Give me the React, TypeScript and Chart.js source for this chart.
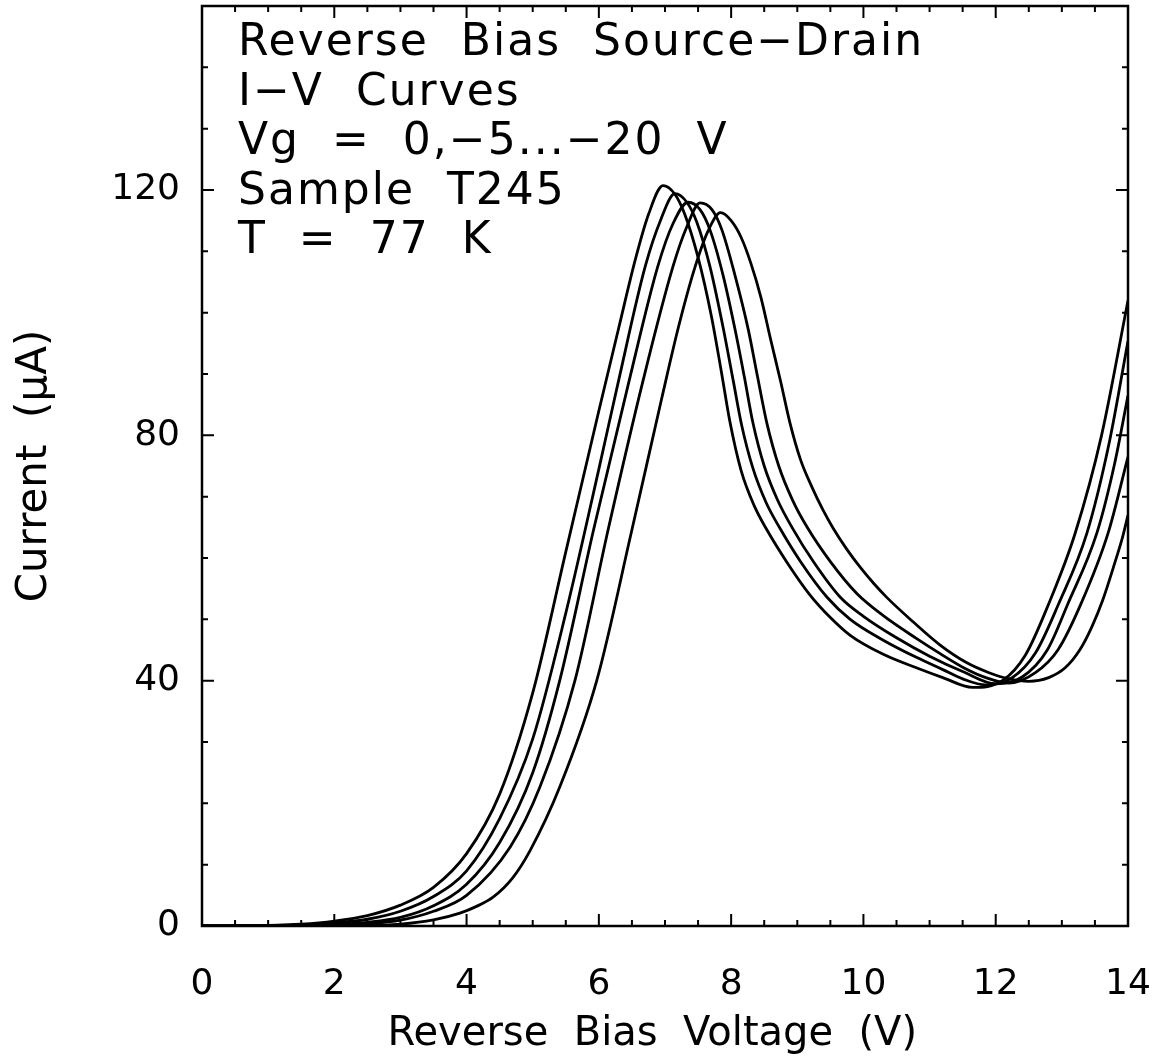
import React, { useEffect, useRef } from "react";
import { Chart, registerables } from "chart.js";

Chart.register(...registerables);

// ---- data ----
const vg0X = [0, 1.0, 1.5, 2.0, 2.5, 3.0, 3.5, 4.0, 4.5, 5.0, 5.5, 6.0, 6.3, 6.55, 6.75, 6.97, 7.15, 7.3, 7.5, 7.7, 7.85, 7.98, 8.15, 8.35, 8.54, 8.85, 9.19, 9.5, 9.8, 10.3, 10.8, 11.2, 11.65, 12.1, 12.45, 12.8, 13.2, 13.6, 14];
const vg0Y = [0, 0.1, 0.3, 0.8, 1.7, 3.4, 6.3, 11.8, 21.5, 38, 61, 84, 97.5, 108.6, 116, 120.7, 119.3, 116, 109, 99.5, 90.5, 82.3, 74.3, 68.5, 64.6, 59.2, 54.0, 50.3, 47.4, 44.3, 42.1, 40.5, 38.9, 40.0, 44.2, 52.5, 64, 80, 102];

const vg5X = [0, 1.0, 1.5, 2.0, 2.5, 3.0, 3.5, 4.0, 4.5, 5.0, 5.5, 6.0, 6.3, 6.7, 6.93, 7.15, 7.33, 7.48, 7.68, 7.88, 8.03, 8.16, 8.33, 8.53, 8.74, 9.05, 9.45, 9.8, 10.3, 10.8, 11.2, 11.5, 11.85, 12.25, 12.6, 12.95, 13.38, 13.72, 14];
const vg5Y = [0, 0.05, 0.2, 0.5, 1.1, 2.4, 4.8, 9, 17.5, 30.5, 51, 74.5, 89, 107.5, 115, 119.4, 118, 114.8, 107.5, 97.5, 89, 81.6, 74.6, 69, 64.8, 59.4, 53.6, 50, 46.6, 43.8, 41.8, 40.3, 39.3, 40.5, 44.5, 52.5, 64.1, 79, 95.4];

const vg10X = [0, 1.0, 1.5, 2.0, 2.5, 3.0, 3.5, 4.0, 4.5, 5.0, 5.41, 5.92, 6.46, 6.89, 7.12, 7.35, 7.53, 7.68, 7.88, 8.06, 8.2, 8.33, 8.5, 8.7, 8.92, 9.25, 9.65, 10.0, 10.5, 11.0, 11.5, 12.0, 12.4, 12.78, 13.09, 13.53, 13.8, 14];
const vg10Y = [0, 0.02, 0.1, 0.25, 0.6, 1.4, 3.3, 6.8, 13.6, 25, 40.1, 64.6, 89, 107.5, 114.5, 118.0, 116.8, 113.5, 106, 97.2, 89.5, 82, 75, 69.5, 65, 59.3, 53.6, 50.5, 47, 44, 41.5, 39.5, 40.6, 45, 52.5, 64.1, 75.5, 86.5];

const vg15X = [0, 1.5, 2.0, 2.5, 3.0, 3.5, 4.0, 4.66, 5.11, 5.64, 6.14, 6.67, 7.12, 7.33, 7.53, 7.71, 7.86, 8.06, 8.26, 8.4, 8.54, 8.72, 8.93, 9.15, 9.5, 9.9, 10.3, 10.8, 11.16, 11.5, 11.85, 12.2, 12.6, 12.94, 13.3, 13.7, 14];
const vg15Y = [0, 0.02, 0.1, 0.35, 0.95, 2.4, 5.0, 12.9, 22.7, 40.1, 64.6, 89, 107.5, 114, 117.9, 116.8, 113.5, 106, 97.2, 89.5, 82, 75, 69.4, 65, 59.4, 54.2, 50.6, 46.9, 44.4, 42.2, 40.5, 39.6, 41.3, 45, 52.8, 64.1, 76.5];

const vg20X = [0, 2.5, 3.0, 3.5, 3.9, 4.15, 4.4, 4.7, 4.96, 5.41, 5.97, 6.5, 6.95, 7.2, 7.45, 7.65, 7.84, 8.0, 8.15, 8.3, 8.45, 8.6, 8.75, 8.89, 9.05, 9.22, 9.39, 9.54, 9.75, 9.95, 10.16, 10.36, 10.75, 11.16, 11.55, 11.9, 12.2, 12.5, 12.8, 13.05, 13.27, 13.45, 13.62, 13.8, 13.92, 14];
const vg20Y = [0, 0.05, 0.3, 1.0, 2.1, 3.2, 4.7, 7.9, 12.3, 22.7, 40.1, 64.6, 86, 97.5, 107.3, 113.3, 116.3, 115, 112.3, 108, 102.5, 95.5, 88.7, 82, 76, 71.6, 67.8, 64.9, 61.4, 58.5, 55.8, 53.5, 49.6, 45.8, 43, 41.3, 40.3, 39.9, 40.5, 42.1, 45.0, 48.7, 53.2, 59.2, 63.5, 67];

const seriesNames = ["Vg = 0 V", "Vg = -5 V", "Vg = -10 V", "Vg = -15 V", "Vg = -20 V"];
const xLabelValues = [0, 2, 4, 6, 8, 10, 12, 14];
const yLabelValues = [0, 40, 80, 120];
const noteLines = [
  "Reverse  Bias  Source\u2212Drain",
  "I\u2212V  Curves",
  "Vg  =  0,\u22125...\u221220  V",
  "Sample  T245",
  "T  =  77  K",
];
const xTitle = "Reverse  Bias  Voltage  (V)  ";
const yTitle = "Current  (\u03bcA)";

const FAMILY = '"DejaVu Sans", sans-serif';

const frameTicks = {
  id: "frameTicks",
  afterDatasetsDraw(chart: any) {
    const { ctx, chartArea } = chart;
    const { left, right, top, bottom } = chartArea;
    const xs = chart.scales.x;
    const ys = chart.scales.y;
    ctx.save();
    ctx.strokeStyle = "#000";
    ctx.lineWidth = 2.5;
    ctx.strokeRect(left, top, right - left, bottom - top);
    ctx.lineWidth = 2;
    ctx.beginPath();
    xs.ticks.forEach((t: any) => {
      const p = xs.getPixelForValue(t.value);
      const major = Math.abs(t.value % 2) < 1e-6;
      const len = major ? 12 : 6;
      ctx.moveTo(p, bottom);
      ctx.lineTo(p, bottom - len);
      ctx.moveTo(p, top);
      ctx.lineTo(p, top + len);
    });
    ys.ticks.forEach((t: any) => {
      const p = ys.getPixelForValue(t.value);
      const major = Math.abs(t.value % 40) < 1e-6;
      const len = major ? 12 : 6;
      ctx.moveTo(left, p);
      ctx.lineTo(left + len, p);
      ctx.moveTo(right, p);
      ctx.lineTo(right - len, p);
    });
    ctx.stroke();
    ctx.restore();
  },
};

const notes = {
  id: "notes",
  afterDraw(chart: any) {
    const { ctx, chartArea } = chart;
    ctx.save();
    ctx.fillStyle = "#000";
    ctx.font = `44px ${FAMILY}`;
    (ctx as any).letterSpacing = "2px";
    ctx.textBaseline = "middle";
    ctx.textAlign = "left";
    noteLines.forEach((line, i) => {
      ctx.fillText(line, chartArea.left + 36, chartArea.top + 38 + i * 49.5);
    });
    ctx.restore();
  },
};

function pts(xs: number[], ys: number[]) {
  return xs.map((x, i) => ({ x, y: ys[i] }));
}

export default function App() {
  const ref = useRef<HTMLCanvasElement>(null);
  useEffect(() => {
    document.body.style.margin = "0";
    const sets = [
      pts(vg0X, vg0Y),
      pts(vg5X, vg5Y),
      pts(vg10X, vg10Y),
      pts(vg15X, vg15Y),
      pts(vg20X, vg20Y),
    ];
    const chart = new Chart(ref.current as HTMLCanvasElement, {
      type: "line",
      data: {
        datasets: sets.map((d, i) => ({
          label: seriesNames[i],
          data: d,
          borderColor: "#000",
          borderWidth: 2.8,
          pointRadius: 0,
          fill: false,
          cubicInterpolationMode: "monotone" as const,
        })),
      },
      options: {
        animation: false,
        responsive: false,
        devicePixelRatio: 1,
        layout: { padding: { left: 0, top: 6, right: 34, bottom: 0 } },
        plugins: { legend: { display: false }, tooltip: { enabled: false } },
        scales: {
          x: {
            type: "linear",
            min: 0,
            max: 14,
            grid: { display: false, drawTicks: false },
            border: { display: false },
            ticks: {
              stepSize: 0.5,
              autoSkip: false,
              maxRotation: 0,
              minRotation: 0,
              padding: 37,
              color: "#000",
              font: { family: FAMILY, size: 36 },
              callback: (v: any) => (xLabelValues.includes(Number(v)) ? String(v) : ""),
            },
            title: {
              display: true,
              text: xTitle,
              color: "#000",
              font: { family: FAMILY, size: 40, lineHeight: 1 },
              padding: { top: 0, bottom: 5 },
            },
            afterFit: (s: any) => {
              s.height = 134;
              s.paddingLeft = 0;
              s.paddingRight = 0;
            },
          },
          y: {
            type: "linear",
            min: 0,
            max: 150,
            grid: { display: false, drawTicks: false },
            border: { display: false },
            ticks: {
              stepSize: 10,
              autoSkip: false,
              padding: 22,
              color: "#000",
              font: { family: FAMILY, size: 36 },
              callback: (v: any) => (yLabelValues.includes(Number(v)) ? String(v) : ""),
            },
            title: {
              display: true,
              text: yTitle,
              color: "#000",
              font: { family: FAMILY, size: 42, lineHeight: 1 },
              padding: { top: 14, bottom: 0 },
            },
            afterFit: (s: any) => {
              s.width = 202;
              s.paddingTop = 0;
              s.paddingBottom = 0;
            },
          },
        },
      },
      plugins: [frameTicks, notes],
    });
    return () => chart.destroy();
  }, []);
  return (
    <div style={{ width: 1162, height: 1060, background: "#fff" }}>
      <canvas ref={ref} width={1162} height={1060} style={{ display: "block" }} />
    </div>
  );
}
